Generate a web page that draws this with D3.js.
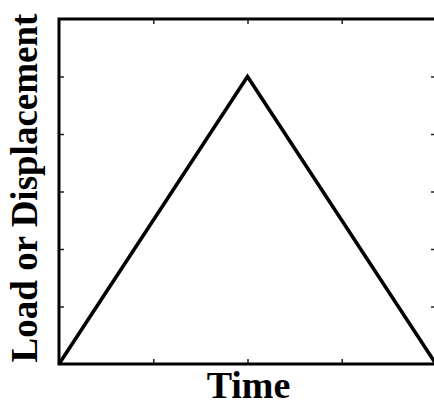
<!DOCTYPE html>
<html>
<head>
<meta charset="utf-8">
<script src="https://cdn.jsdelivr.net/npm/d3@7"></script>
<style>
  html, body { margin: 0; padding: 0; background: #fff; overflow: hidden; }
  svg { display: block; overflow: hidden; }
</style>
</head>
<body>
<script>
// Triangular loading history: ramp up to the peak, then back down to zero.
const timePoints = [0, 2, 4];
const loadValues = [0, 5, 0];
const xTicks = [1, 2, 3];
const yTicks = [1, 2, 3, 4, 5];
const xLabel = "Time";
const yLabel = "Load or Displacement";

const width = 434, height = 411;
const margin = { left: 59, right: -2, top: 19, bottom: 47 };

const svg = d3.select("body").append("svg")
  .attr("width", width)
  .attr("height", height);

const x = d3.scaleLinear().domain([0, 4]).range([margin.left, width - margin.right]);
const y = d3.scaleLinear().domain([0, 6]).range([height - margin.bottom, margin.top]);

const tickLen = 5;

// Inward-facing ticks on all four sides
const axes = [
  { axis: d3.axisBottom(x).tickValues(xTicks).tickSize(-tickLen).tickFormat(""), t: `translate(0,${y(0)})` },
  { axis: d3.axisTop(x).tickValues(xTicks).tickSize(-tickLen).tickFormat(""), t: `translate(0,${y(6)})` },
  { axis: d3.axisLeft(y).tickValues(yTicks).tickSize(-tickLen).tickFormat(""), t: `translate(${x(0)},0)` },
  { axis: d3.axisRight(y).tickValues(yTicks).tickSize(-tickLen).tickFormat(""), t: `translate(${x(4)},0)` }
];
axes.forEach(a => {
  const g = svg.append("g").attr("transform", a.t).call(a.axis);
  g.select(".domain").remove();
  g.selectAll(".tick line").attr("stroke", "#222").attr("stroke-width", 1.5);
});

// Plot frame (the right edge falls just outside the canvas)
const frame = d3.line()([
  [x(4), y(6)], [x(0), y(6)], [x(0), y(0)], [x(4), y(0)]
]);
svg.append("path")
  .attr("d", frame)
  .attr("fill", "none").attr("stroke", "#000").attr("stroke-width", 3)
  .attr("stroke-linejoin", "miter");

// Load curve
const line = d3.line().x((d, i) => x(timePoints[i])).y(d => y(d));
svg.append("path")
  .datum(loadValues)
  .attr("d", line)
  .attr("fill", "none")
  .attr("stroke", "#000")
  .attr("stroke-width", 3.6)
  .attr("stroke-linejoin", "miter");

// Axis titles
svg.append("text")
  .attr("x", (x(0) + x(4)) / 2 + 1)
  .attr("y", 398)
  .attr("text-anchor", "middle")
  .attr("font-family", "'Liberation Serif', 'Times New Roman', serif")
  .attr("font-weight", "bold")
  .attr("font-size", 38)
  .text(xLabel);

svg.append("text")
  .attr("transform", `translate(37,188) rotate(-90)`)
  .attr("text-anchor", "middle")
  .attr("font-family", "'Liberation Serif', 'Times New Roman', serif")
  .attr("font-weight", "bold")
  .attr("font-size", 37)
  .text(yLabel);
</script>
</body>
</html>
